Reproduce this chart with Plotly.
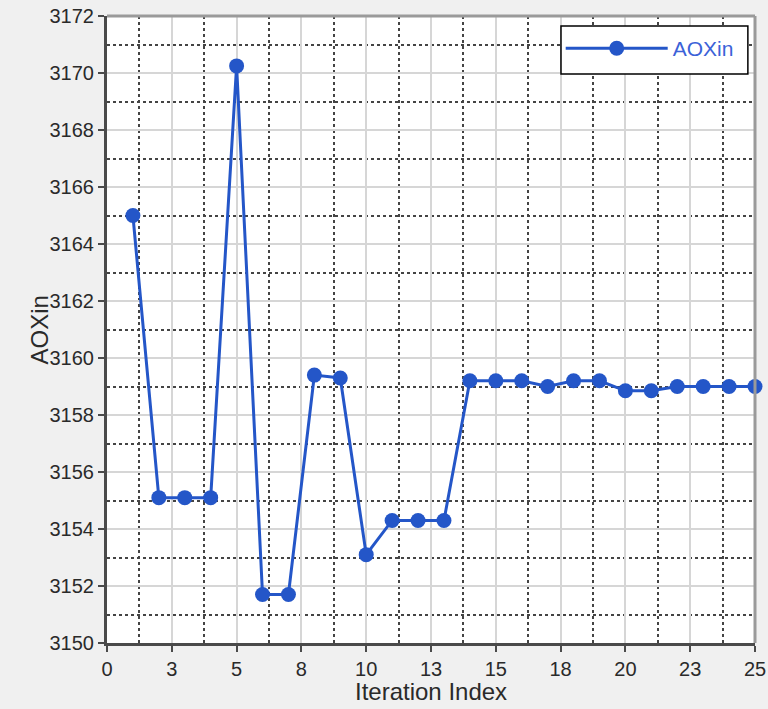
import plotly.graph_objects as go

# ---- data ----
iterations = list(range(1, 26))
aoxin = [3165.0, 3155.1, 3155.1, 3155.1, 3170.25, 3151.7, 3151.7, 3159.4, 3159.3, 3153.1,
         3154.3, 3154.3, 3154.3, 3159.2, 3159.2, 3159.2, 3159.0, 3159.2, 3159.2, 3158.85,
         3158.85, 3159.0, 3159.0, 3159.0, 3159.0]
x_tick_vals = [0, 2.5, 5, 7.5, 10, 12.5, 15, 17.5, 20, 22.5, 25]
x_tick_text = ["0", "3", "5", "8", "10", "13", "15", "18", "20", "23", "25"]
x_minor_vals = [1.25, 3.75, 6.25, 8.75, 11.25, 13.75, 16.25, 18.75, 21.25, 23.75]
y_tick_vals = list(range(3150, 3173, 2))
y_minor_vals = list(range(3151, 3172, 2))

LINE = "#2456c8"
FONT = "Liberation Sans"

fig = go.Figure()
fig.add_trace(go.Scatter(
    x=iterations, y=aoxin, mode="lines+markers", name="AOXin",
    line=dict(color=LINE, width=3),
    marker=dict(color=LINE, size=15, symbol="circle"),
    cliponaxis=False,
))

fig.update_layout(
    width=768, height=709,
    margin=dict(l=107, r=13, t=16, b=66, autoexpand=False),
    paper_bgcolor="#f0f0f0", plot_bgcolor="white",
    font=dict(family=FONT, size=20, color="#2a2a2a"),
    showlegend=True,
    legend=dict(x=0.8375, xanchor="center", y=0.948, yanchor="middle",
                bgcolor="rgba(0,0,0,0)", borderwidth=0,
                font=dict(color="#3b62d8", size=21, family=FONT),
                itemwidth=102),
    xaxis=dict(range=[0, 25], tickvals=x_tick_vals, ticktext=x_tick_text,
               automargin=False,
               showgrid=True, gridcolor="#d6d6d6", gridwidth=2,
               showline=True, linecolor="#4a4a4a", linewidth=3,
               ticks="outside", ticklen=6, tickwidth=2, tickcolor="#4a4a4a",
               zeroline=False,
               minor=dict(tickvals=x_minor_vals, showgrid=True, griddash="dot",
                          gridcolor="#444444", gridwidth=2, ticks="")),
    yaxis=dict(range=[3150, 3172], tickvals=y_tick_vals,
               automargin=False,
               showgrid=True, gridcolor="#d6d6d6", gridwidth=2,
               showline=True, linecolor="#4a4a4a", linewidth=3,
               ticks="outside", ticklen=6, tickwidth=2, tickcolor="#4a4a4a",
               zeroline=False,
               minor=dict(tickvals=y_minor_vals, showgrid=True, griddash="dot",
                          gridcolor="#444444", gridwidth=2, ticks="")),
    shapes=[
        dict(type="line", xref="paper", yref="paper", x0=0, x1=1, y0=1, y1=1,
             line=dict(color="#9a9a9a", width=3), layer="above"),
        dict(type="line", xref="paper", yref="paper", x0=1, x1=1, y0=0, y1=1,
             line=dict(color="#9a9a9a", width=3), layer="above"),
        dict(type="rect", xref="paper", yref="paper", x0=0.7006, x1=0.989,
             y0=0.9075, y1=0.984, fillcolor="white",
             line=dict(color="black", width=1.5), layer="above"),
    ],
    annotations=[
        dict(text="AOXin", xref="paper", yref="paper", x=-0.1034, y=0.5,
             xanchor="center", yanchor="middle", textangle=-90, showarrow=False,
             font=dict(size=24, family=FONT, color="#2a2a2a")),
        dict(text="Iteration Index", xref="paper", yref="paper", x=0.5, y=-0.078,
             xanchor="center", yanchor="middle", showarrow=False,
             font=dict(size=24, family=FONT, color="#2a2a2a")),
    ],
)

fig.write_html("out.html")
